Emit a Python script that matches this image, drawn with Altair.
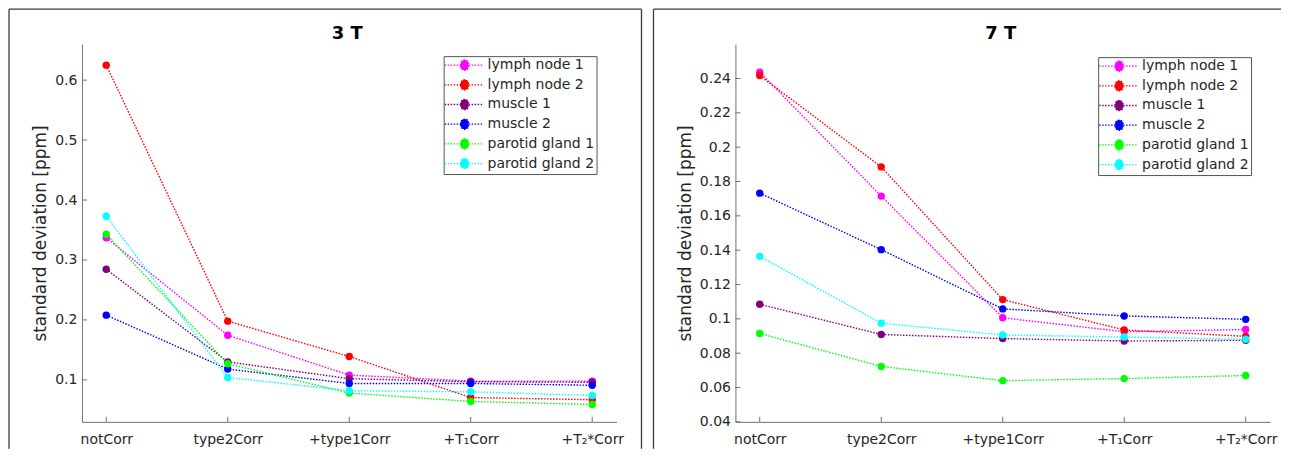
import altair as alt
import pandas as pd

# ---------------- data ----------------
categories = ["notCorr", "type2Corr", "+type1Corr", "+T₁Corr", "+T₂*Corr"]
series_names = ["lymph node 1", "lymph node 2", "muscle 1", "muscle 2",
                "parotid gland 1", "parotid gland 2"]
series_colors = ["#ff00ff", "#ff0000", "#800080", "#0000ff", "#00ff00", "#00ffff"]
panel_titles = ["3 T", "7 T"]

# 3 T
t3_lymph_node_1 = [0.337, 0.1745, 0.108, 0.098, 0.098]
t3_lymph_node_2 = [0.625, 0.198, 0.139, 0.0705, 0.067]
t3_muscle_1 = [0.2845, 0.130, 0.102, 0.097, 0.096]
t3_muscle_2 = [0.208, 0.118, 0.094, 0.094, 0.091]
t3_parotid_1 = [0.343, 0.127, 0.078, 0.064, 0.059]
t3_parotid_2 = [0.373, 0.104, 0.082, 0.080, 0.074]

# 7 T
t7_lymph_node_1 = [0.2437, 0.1715, 0.1006, 0.0925, 0.0938]
t7_lymph_node_2 = [0.2417, 0.1885, 0.1112, 0.0935, 0.0898]
t7_muscle_1 = [0.1085, 0.0909, 0.0885, 0.0871, 0.0875]
t7_muscle_2 = [0.1732, 0.1403, 0.1058, 0.1017, 0.0997]
t7_parotid_1 = [0.0915, 0.0723, 0.0640, 0.0652, 0.0670]
t7_parotid_2 = [0.1364, 0.0975, 0.0906, 0.0894, 0.0881]

y_ticks_3t = [0.1, 0.2, 0.3, 0.4, 0.5, 0.6]
y_ticks_7t = [0.04, 0.06, 0.08, 0.1, 0.12, 0.14, 0.16, 0.18, 0.2, 0.22, 0.24]
y_domain_3t = [0.03, 0.66]
y_domain_7t = [0.04, 0.26]


def long_frame(series_lists):
    rows = []
    for s, vals in zip(series_names, series_lists):
        for c, v in zip(categories, vals):
            rows.append({"cat": c, "series": s, "sd": v})
    return pd.DataFrame(rows)


df3 = long_frame([t3_lymph_node_1, t3_lymph_node_2, t3_muscle_1, t3_muscle_2,
                  t3_parotid_1, t3_parotid_2])
df7 = long_frame([t7_lymph_node_1, t7_lymph_node_2, t7_muscle_1, t7_muscle_2,
                  t7_parotid_1, t7_parotid_2])

FONT = "DejaVu Sans"
TXT = "#262626"
W, H = 535, 378

LEG_PATH = ("M-1.33,0L5.17,0M1.37,0A0.66,0.66,0,1,1,2.63,0"
            "A0.66,0.66,0,1,1,1.37,0Z")


def panel(df, title, ydomain, yticks, leg_x, leg_y, frame, right_side):
    xs = alt.Scale(domain=categories, type="point", padding=0.2)
    ys = alt.Scale(domain=ydomain, nice=False, zero=False)
    cs = alt.Scale(domain=series_names, range=series_colors)
    xaxis = alt.Axis(title=None, ticks=False, labelAngle=0,
                     labelFont=FONT, labelFontSize=14, labelColor=TXT,
                     labelPadding=11, domainColor="#707070",
                     domainWidth=1, labelOverlap=False)
    yaxis = alt.Axis(values=yticks, format=".2~f", ticks=False,
                     grid=False, title="standard deviation [ppm]",
                     titleFont=FONT, titleFontSize=17,
                     titleFontWeight="normal", titleColor=TXT,
                     titlePadding=5, labelFont=FONT, labelFontSize=14,
                     labelColor=TXT, labelPadding=5,
                     labelOverlap=False, labelFlush=False,
                     domainColor="#707070", domainWidth=1)
    x = alt.X("cat:N", scale=xs, sort=categories, axis=xaxis)
    y = alt.Y("sd:Q", scale=ys, axis=yaxis)
    legend = alt.Legend(title=None, orient="none", legendX=leg_x,
                        legendY=leg_y, symbolType=LEG_PATH, symbolSize=144,
                        symbolStrokeWidth=1.3, symbolDash=[1.5, 1.5],
                        labelFont=FONT, labelFontSize=14, labelColor=TXT,
                        labelOffset=28, rowPadding=3.7, padding=2,
                        strokeColor="#555555", fillColor="white",
                        labelLimit=300)
    base = alt.Chart(df)
    lines = base.mark_line(strokeWidth=1.4, strokeDash=[1.5, 1.5]).encode(
        x=x, y=y, stroke=alt.Stroke("series:N", scale=cs, legend=legend))
    points = base.mark_circle(size=55, opacity=1).encode(
        x=x, y=y, fill=alt.Fill("series:N", scale=cs, legend=legend))

    # inward tick marks
    xt = alt.Chart(pd.DataFrame({"cat": categories})).mark_rule(
        color="#707070", strokeWidth=1).encode(
        x=x, y=alt.value(H), y2=alt.value(H - 5))
    yt = alt.Chart(pd.DataFrame({"sd": yticks})).mark_rule(
        color="#707070", strokeWidth=1).encode(
        y=y, x=alt.value(0), x2=alt.value(5))

    # panel title as a text mark
    ttl = alt.Chart(pd.DataFrame({"t": [title]})).mark_text(
        font=FONT, fontSize=18, fontWeight="bold", color="#000000",
        align="center", baseline="alphabetic").encode(
        text="t:N", x=alt.value(W / 2 - 2), y=alt.value(-5))

    one = alt.Data(values=[{"k": 0}])
    fl, fr, ft, fb = frame
    frame_layers = [
        alt.Chart(one).mark_rule(color="#3a3a3a", strokeWidth=1.3).encode(
            x=alt.value(fl), x2=alt.value(fr), y=alt.value(ft)),
        alt.Chart(one).mark_rule(color="#3a3a3a", strokeWidth=1.3).encode(
            x=alt.value(fl), y=alt.value(ft), y2=alt.value(fb)),
    ]
    if right_side:
        frame_layers.append(
            alt.Chart(one).mark_rule(color="#3a3a3a", strokeWidth=1.3).encode(
                x=alt.value(fr), y=alt.value(ft), y2=alt.value(fb)))

    return alt.layer(lines, points, xt, yt, ttl, *frame_layers).properties(
        width=W, height=H)


left = panel(df3, panel_titles[0], y_domain_3t, y_ticks_3t, 362, 12,
             (-73, 560, -35, 405), True)
right = panel(df7, panel_titles[1], y_domain_7t, y_ticks_7t, 363, 13,
              (-82, 546, -35, 405), False)

chart = alt.hconcat(left, right, spacing=119, bounds="flush").resolve_scale(
    x="independent", y="independent", fill="independent",
    stroke="independent").resolve_legend(
    fill="independent", stroke="independent").properties(
    padding=0, background="white").configure_view(stroke=None)

chart.save("out.html", embed_options={"renderer": "svg", "actions": False})
